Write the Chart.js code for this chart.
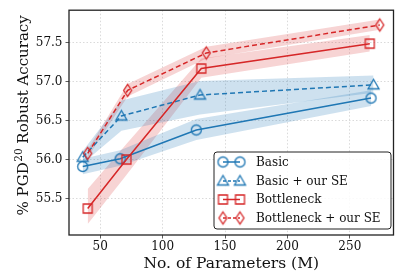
<!DOCTYPE html>
<html><head><meta charset="utf-8">
<script src="https://cdn.jsdelivr.net/npm/chart.js@4"></script>
<style>html,body{margin:0;padding:0;background:#fff}</style>
</head><body>
<canvas id="c" width="401" height="273" style="width:401px;height:273px;display:block"></canvas>
<script>
// ---- data ----
const seriesNames = ["Basic", "Basic + our SE", "Bottleneck", "Bottleneck + our SE"];
const basicX = [36, 66, 127, 267];
const basicY = [55.91, 56.01, 56.38, 56.79];
const basicLow = [55.81, 55.92, 56.25, 56.69];
const basicHigh = [56.01, 56.12, 56.52, 56.89];
const basicSeX = [36, 67, 130, 269];
const basicSeY = [56.03, 56.56, 56.83, 56.96];
const basicSeLow = [55.95, 56.37, 56.58, 56.86];
const basicSeHigh = [56.11, 56.76, 57.01, 57.08];
const bottleX = [40, 71, 131, 266];
const bottleY = [55.37, 56.0, 57.17, 57.49];
const bottleLow = [55.17, 55.8, 57.05, 57.39];
const bottleHigh = [55.62, 56.2, 57.3, 57.6];
const bottleSeX = [40, 72, 135, 274];
const bottleSeY = [56.08, 56.89, 57.37, 57.73];
const bottleSeLow = [56.03, 56.81, 57.3, 57.67];
const bottleSeHigh = [56.13, 56.97, 57.45, 57.8];
const xTicks = [50, 100, 150, 200, 250];
const xTickLabels = ["50", "100", "150", "200", "250"];
const yTicks = [55.5, 56.0, 56.5, 57.0, 57.5];
const yTickLabels = ["55.5", "56.0", "56.5", "57.0", "57.5"];
const xTitle = "No. of Parameters (M)";
const yTitleParts = ["% PGD", "20", " Robust Accuracy"];

const BLUE = '#1f77b4', RED = '#d62728';
const FONT = "'DejaVu Serif', serif";

function marker(shape, color) {
  const s = 17, c = document.createElement('canvas');
  c.width = s; c.height = s;
  const g = c.getContext('2d');
  g.strokeStyle = color; g.lineWidth = 1.3; g.lineJoin = 'miter';
  const m = s / 2;
  g.beginPath();
  if (shape === 'circle') g.arc(m, m, 5, 0, Math.PI * 2);
  else if (shape === 'tri') { g.moveTo(m, m - 5.5); g.lineTo(m + 5.5, m + 4); g.lineTo(m - 5.5, m + 4); g.closePath(); }
  else if (shape === 'square') { g.rect(m - 4.5, m - 4.5, 9, 9); }
  else if (shape === 'diamond') { g.moveTo(m, m - 6); g.lineTo(m + 4, m); g.lineTo(m, m + 6); g.lineTo(m - 4, m); g.closePath(); }
  g.stroke();
  return c;
}

const pts = (xs, ys) => xs.map((x, i) => ({x, y: ys[i]}));
const specs = [
  {x: basicX, y: basicY, lo: basicLow, hi: basicHigh, color: BLUE, band: 'rgba(31,119,180,0.22)', shape: 'circle', dash: []},
  {x: basicSeX, y: basicSeY, lo: basicSeLow, hi: basicSeHigh, color: BLUE, band: 'rgba(31,119,180,0.22)', shape: 'tri', dash: [5, 3]},
  {x: bottleX, y: bottleY, lo: bottleLow, hi: bottleHigh, color: RED, band: 'rgba(214,39,40,0.2)', shape: 'square', dash: []},
  {x: bottleSeX, y: bottleSeY, lo: bottleSeLow, hi: bottleSeHigh, color: RED, band: 'rgba(214,39,40,0.2)', shape: 'diamond', dash: [5, 3]},
];
specs.forEach(s => s.img = marker(s.shape, s.color));

const datasets = [];
specs.forEach((s, i) => {
  datasets.push({label: '_lo' + i, data: pts(s.x, s.lo), borderWidth: 0, pointRadius: 0, fill: false, order: 20 + i, borderColor: 'transparent'});
  datasets.push({label: '_hi' + i, data: pts(s.x, s.hi), borderWidth: 0, pointRadius: 0, fill: '-1', backgroundColor: s.band, order: 20 + i, borderColor: 'transparent'});
});
specs.forEach((s, i) => {
  datasets.push({label: seriesNames[i], data: pts(s.x, s.y), borderColor: s.color, borderWidth: 1.5, borderDash: s.dash,
    pointStyle: s.img, pointRadius: 6, fill: false, order: 4 - i, tension: 0});
});

const legendPlugin = {
  id: 'mplLegend',
  afterDraw(chart) {
    const ctx = chart.ctx, a = chart.chartArea;
    ctx.save();
    // frame
    ctx.strokeStyle = '#222'; ctx.lineWidth = 1.3;
    ctx.strokeRect(a.left, a.top, a.right - a.left, a.bottom - a.top);
    // y title with superscript
    ctx.save();
    ctx.translate(24, (a.top + a.bottom) / 2 - 7);
    ctx.rotate(-Math.PI / 2);
    ctx.fillStyle = '#111'; ctx.textBaseline = 'middle'; ctx.textAlign = 'left';
    const big = '15px ' + FONT, small = '10.5px ' + FONT;
    ctx.font = big; const w0 = ctx.measureText(yTitleParts[0]).width, w2 = ctx.measureText(yTitleParts[2]).width;
    ctx.font = small; const w1 = ctx.measureText(yTitleParts[1]).width;
    let x = -(w0 + w1 + w2) / 2;
    ctx.font = big; ctx.fillText(yTitleParts[0], x, 0); x += w0;
    ctx.font = small; ctx.fillText(yTitleParts[1], x + 0.5, -5); x += w1 + 0.5;
    ctx.font = big; ctx.fillText(yTitleParts[2], x, 0);
    ctx.restore();
    // legend box
    const bx = 214, by = 152, bw = 177, bh = 77, r = 3;
    ctx.beginPath();
    ctx.moveTo(bx + r, by); ctx.lineTo(bx + bw - r, by); ctx.quadraticCurveTo(bx + bw, by, bx + bw, by + r);
    ctx.lineTo(bx + bw, by + bh - r); ctx.quadraticCurveTo(bx + bw, by + bh, bx + bw - r, by + bh);
    ctx.lineTo(bx + r, by + bh); ctx.quadraticCurveTo(bx, by + bh, bx, by + bh - r);
    ctx.lineTo(bx, by + r); ctx.quadraticCurveTo(bx, by, bx + r, by); ctx.closePath();
    ctx.fillStyle = 'rgba(255,255,255,0.85)'; ctx.fill();
    ctx.strokeStyle = '#222'; ctx.lineWidth = 1; ctx.stroke();
    const rows = [162, 181, 199.5, 218];
    specs.forEach((s, i) => {
      const y = rows[i];
      ctx.strokeStyle = s.color; ctx.lineWidth = 1.5; ctx.setLineDash(s.dash.length ? [3, 2] : []);
      ctx.beginPath(); ctx.moveTo(223, y); ctx.lineTo(240, y); ctx.stroke();
      ctx.setLineDash([]);
      ctx.drawImage(s.img, 223 - 8.5, y - 8.5);
      ctx.drawImage(s.img, 240 - 8.5, y - 8.5);
      ctx.fillStyle = '#111'; ctx.font = '12px ' + FONT; ctx.textBaseline = 'middle'; ctx.textAlign = 'left';
      ctx.fillText(seriesNames[i], 256, y + 0.5);
    });
    ctx.restore();
  }
};

new Chart(document.getElementById('c'), {
  type: 'line',
  data: {datasets},
  plugins: [legendPlugin],
  options: {
    responsive: false, animation: false, devicePixelRatio: 1,
    layout: {padding: {top: 7, right: 3, left: 0, bottom: 0}},
    plugins: {legend: {display: false}, tooltip: {enabled: false}},
    scales: {
      x: {
        type: 'linear', min: 25, max: 285,
        afterBuildTicks: sc => { sc.ticks = xTicks.map(v => ({value: v})); },
        afterFit: sc => { sc.height = 38; },
        ticks: {callback: (v, i) => xTickLabels[i], font: {family: FONT, size: 12}, color: '#111', padding: 1, maxRotation: 0},
        grid: {color: '#d0d0d0', lineWidth: 0.8, tickLength: 3.5, tickColor: '#333', tickWidth: 0.8},
        border: {display: false, dash: [1.5, 2]},
        title: {display: true, text: xTitle, font: {family: FONT, size: 15.5}, color: '#111', padding: {top: 0, bottom: 0}}
      },
      y: {
        type: 'linear', min: 55.03, max: 57.92,
        afterBuildTicks: sc => { sc.ticks = yTicks.map(v => ({value: v})); },
        afterFit: sc => { sc.width = 69; },
        ticks: {callback: (v, i) => yTickLabels[i], font: {family: FONT, size: 12}, color: '#111', padding: 3},
        grid: {color: '#d0d0d0', lineWidth: 0.8, tickLength: 3.5, tickColor: '#333', tickWidth: 0.8},
        border: {display: false, dash: [1.5, 2]},
        title: {display: false}
      }
    }
  }
});
</script>
</body></html>
